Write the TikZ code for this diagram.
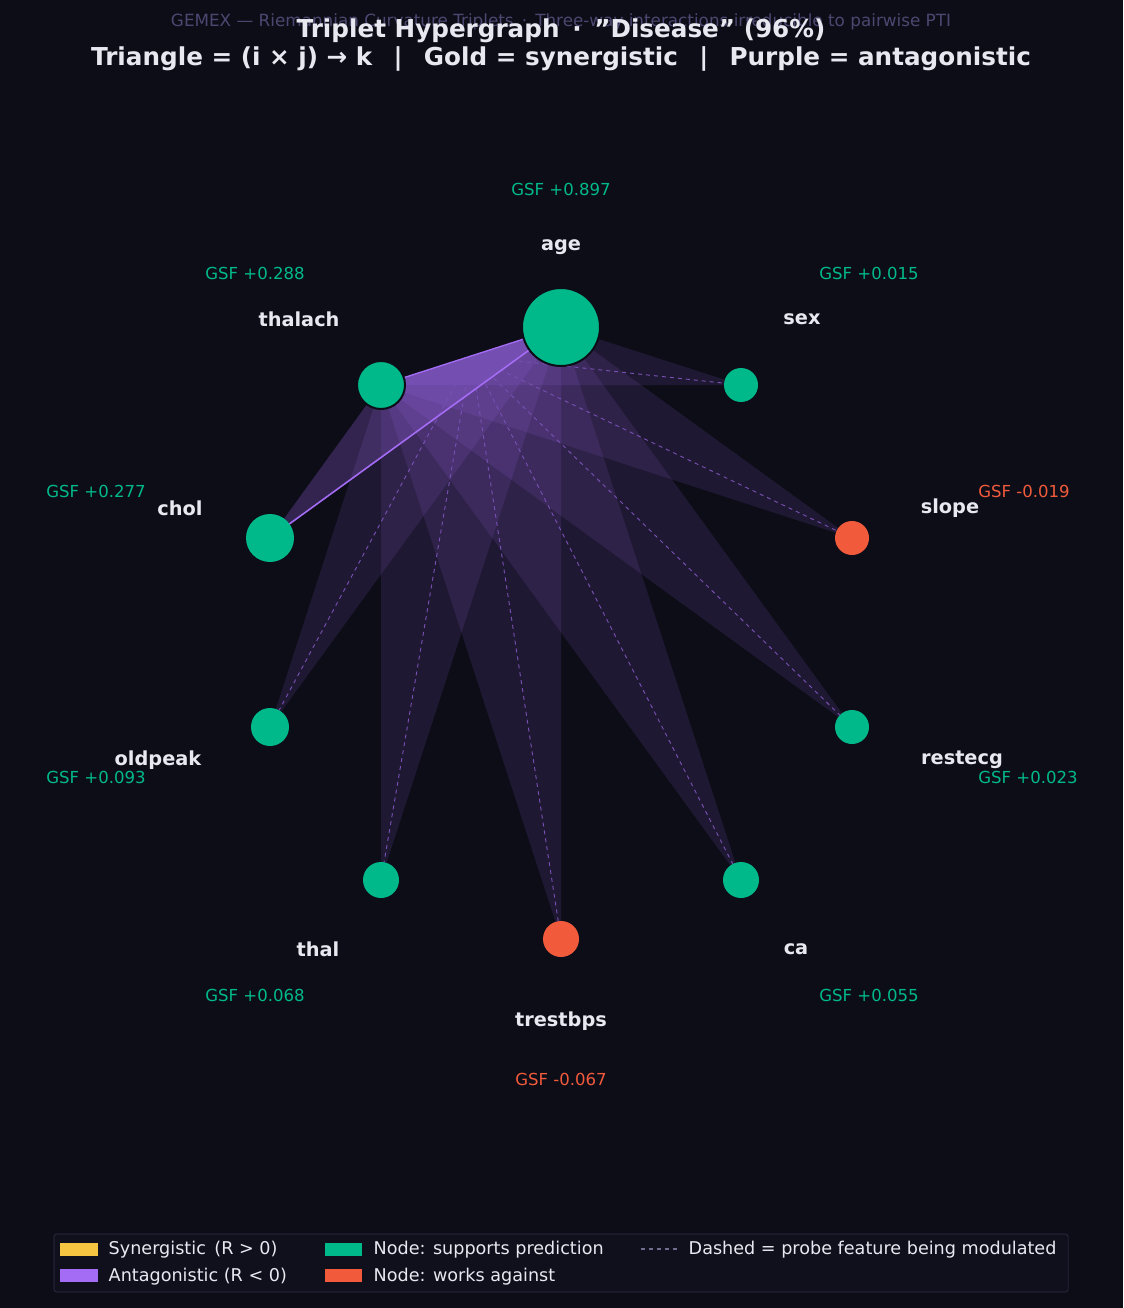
\documentclass[tikz,border=0pt]{standalone}
\usepackage{fontspec}
\setmainfont{DejaVu Sans}
\definecolor{bg}{HTML}{0D0D18}
\definecolor{grn}{HTML}{00B98A}
\definecolor{rd}{HTML}{F25A3C}
\definecolor{pur}{HTML}{A46CF5}
\definecolor{gold}{HTML}{F5C542}
\definecolor{txt}{HTML}{E8E8F0}
\definecolor{sub}{HTML}{4A4870}
\definecolor{legbg}{HTML}{10101C}
\begin{document}
\begin{tikzpicture}[x=0.75pt,y=-0.75pt,
  fn/.style={circle,draw=bg,line width=1.5pt,inner sep=0pt},
  nm/.style={text=txt,font=\bfseries\fontsize{14.5}{17}\selectfont},
  gsf/.style={font=\fontsize{12.4}{14}\selectfont},
  lg/.style={anchor=west,text=txt,font=\fontsize{13.2}{15}\selectfont},
  tri/.style={fill=pur,fill opacity=0.12},
  dsh/.style={draw=pur!70!bg,dashed,line width=0.7pt}]
\fill[bg] (0,0) rectangle (1123,1308);
\useasboundingbox (0,0) rectangle (1123,1308);
\coordinate (age) at (561,327);
\coordinate (thalach) at (381,385);
\coordinate (sex) at (741,385);
\coordinate (chol) at (270,538);
\coordinate (slope) at (852,538);
\coordinate (oldpeak) at (270,727);
\coordinate (restecg) at (852,727);
\coordinate (thal) at (381,880);
\coordinate (ca) at (741,880);
\coordinate (trestbps) at (561,939);
\coordinate (mid) at (471,356);
\foreach \k in {sex,slope,oldpeak,restecg,thal,ca,trestbps}
  \fill[tri] (age) -- (thalach) -- (\k) -- cycle;
\fill[pur,fill opacity=0.25] (age) -- (thalach) -- (chol) -- cycle;
\foreach \k in {sex,slope,oldpeak,restecg,thal,ca,trestbps}
  \draw[dsh] (mid) -- (\k);
\draw[pur,line width=1pt] (thalach) -- (age);
\draw[pur,line width=1.2pt] (chol) -- (age);
\node[fn,fill=grn,minimum size=78pt*0.75] (nage) at (age) {};
\node[fn,fill=grn,minimum size=48pt*0.75] (nthalach) at (thalach) {};
\node[fn,fill=grn,minimum size=34pt*0.75,draw=none] (nsex) at (sex) {};
\node[fn,fill=grn,minimum size=48pt*0.75,draw=none] (nchol) at (chol) {};
\node[fn,fill=rd,minimum size=34pt*0.75,draw=none] (nslope) at (slope) {};
\node[fn,fill=grn,minimum size=38pt*0.75,draw=none] (noldpeak) at (oldpeak) {};
\node[fn,fill=grn,minimum size=34pt*0.75,draw=none] (nrestecg) at (restecg) {};
\node[fn,fill=grn,minimum size=36pt*0.75,draw=none] (nthal) at (thal) {};
\node[fn,fill=grn,minimum size=36pt*0.75,draw=none] (nca) at (ca) {};
\node[fn,fill=rd,minimum size=36pt*0.75,draw=none] (ntrestbps) at (trestbps) {};
% labels
\node[nm] (lage) at (561,247) {age};
\node[nm] (lthalach) at (299,319) {thalach};
\node[nm] (lsex) at (802,319) {sex};
\node[nm] (lchol) at (180,508) {chol};
\node[nm] (lslope) at (950,508) {slope};
\node[nm] (loldpeak) at (158,760) {oldpeak};
\node[nm] (lrestecg) at (962,760) {restecg};
\node[nm] (lthal) at (318,949) {thal};
\node[nm] (lca) at (796,949) {ca};
\node[nm] (ltrestbps) at (561,1021) {trestbps};
\node[gsf,text=grn] (gage) at (561,189) {GSF +0.897};
\node[gsf,text=grn] (gthalach) at (255,273) {GSF +0.288};
\node[gsf,text=grn] (gsex) at (869,273) {GSF +0.015};
\node[gsf,text=grn] (gchol) at (96,491) {GSF +0.277};
\node[gsf,text=rd] (gslope) at (1024,491) {GSF -0.019};
\node[gsf,text=grn] (goldpeak) at (96,777) {GSF +0.093};
\node[gsf,text=grn] (grestecg) at (1028,777) {GSF +0.023};
\node[gsf,text=grn] (gthal) at (255,995) {GSF +0.068};
\node[gsf,text=grn] (gca) at (869,995) {GSF +0.055};
\node[gsf,text=rd] (gtrestbps) at (561,1079) {GSF -0.067};
% titles
\node[text=sub,font=\fontsize{12.6}{14}\selectfont] (subt) at (561,22) {GEMEX — Riemannian Curvature Triplets \,·\, Three-way interactions irreducible to pairwise PTI};
\node[text=txt,font=\bfseries\fontsize{18.5}{21}\selectfont] (t1) at (561,31) {Triplet Hypergraph \,·\, \char"22 Disease\char"22{} (96\%)};
\node[text=txt,font=\bfseries\fontsize{18.5}{21}\selectfont] (t2) at (561,59) {Triangle = (i × j) → k \ \,|\ \, Gold = synergistic \ \,|\ \, Purple = antagonistic};
% legend
\draw[fill=legbg,draw=sub!60!bg,rounded corners=2pt] (54,1234) rectangle (1068,1292);
\fill[gold] (60,1243) rectangle (98,1256);
\fill[pur] (60,1269) rectangle (98,1282);
\fill[grn] (325,1243) rectangle (362,1256);
\fill[rd] (325,1269) rectangle (362,1282);
\draw[sub!80!white,dashed,line width=1.2pt] (641,1249) -- (679,1249);
\node[lg] (l1) at (104,1250) {Synergistic \,(R > 0)};
\node[lg] (l2) at (104,1277) {Antagonistic (R < 0)};
\node[lg] (l3) at (369,1250) {Node: supports prediction};
\node[lg] (l4) at (369,1277) {Node: works against};
\node[lg] (l5) at (684,1250) {Dashed = probe feature being modulated};
\end{tikzpicture}
\end{document}
